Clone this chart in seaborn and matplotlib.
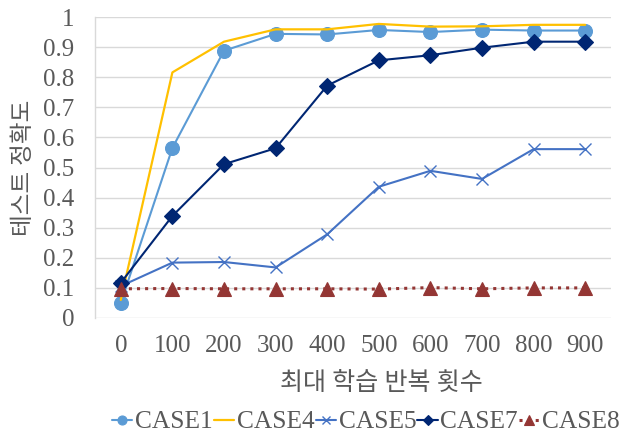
import matplotlib
matplotlib.use("Agg")
import matplotlib.pyplot as plt
from matplotlib.lines import Line2D
import seaborn as sns
import pandas as pd

iterations = ["0", "100", "200", "300", "400", "500", "600", "700", "800", "900"]
case1 = [0.050, 0.565, 0.888, 0.944, 0.942, 0.957, 0.950, 0.958, 0.955, 0.955]
case4 = [0.060, 0.816, 0.918, 0.959, 0.959, 0.977, 0.968, 0.969, 0.974, 0.974]
case5 = [0.106, 0.184, 0.186, 0.168, 0.278, 0.436, 0.489, 0.462, 0.561, 0.561]
case7 = [0.117, 0.339, 0.511, 0.564, 0.772, 0.856, 0.873, 0.898, 0.918, 0.918]
case8 = [0.097, 0.098, 0.097, 0.097, 0.097, 0.096, 0.101, 0.097, 0.100, 0.100]
series_names = ["CASE1", "CASE4", "CASE5", "CASE7", "CASE8"]
y_ticks = [0, 0.1, 0.2, 0.3, 0.4, 0.5, 0.6, 0.7, 0.8, 0.9, 1]
y_tick_labels = ["0", "0.1", "0.2", "0.3", "0.4", "0.5", "0.6", "0.7", "0.8", "0.9", "1"]
x_title = "최대 학습 반복 횟수"
y_title = "테스트 정확도"

sns.set_theme(style="white")
plt.rcParams["font.family"] = ["Liberation Serif", "Noto Sans CJK KR"]
text_color = "#595959"

styles = {
    "CASE1": dict(color="#5B9BD5", marker="o", markersize=10, linestyle="-", lw=1.5),
    "CASE4": dict(color="#FFC000", marker=None, markersize=0, linestyle="-", lw=1.6),
    "CASE5": dict(color="#4472C4", marker="x", markersize=8, linestyle="-", lw=1.5, mew=1.0),
    "CASE7": dict(color="#002673", marker="D", markersize=8, linestyle="-", lw=1.5),
    "CASE8": dict(color="#943634", marker="^", markersize=10, linestyle=":", lw=2.2),
}
values = dict(zip(series_names, [case1, case4, case5, case7, case8]))

fig = plt.figure(figsize=(6.3, 4.38), dpi=100)
ax = fig.add_axes([95 / 630, 1 - 318 / 438, (611 - 95) / 630, (318 - 17) / 438])

pos = list(range(len(iterations)))
legend_handles = []
for name in series_names:
    st = styles[name]
    df = pd.DataFrame({"x": pos, "y": values[name]})
    kw = dict(color=st["color"], linestyle=st["linestyle"], linewidth=st["lw"])
    if st["marker"]:
        kw.update(marker=st["marker"], markersize=st["markersize"],
                  markeredgecolor=st["color"], markerfacecolor=st["color"],
                  markeredgewidth=st.get("mew", 0.8))
    sns.lineplot(data=df, x="x", y="y", ax=ax, legend=False, **kw)
    # smaller marker for the legend key
    hk = dict(kw)
    if st["marker"]:
        hk["markersize"] = st["markersize"] * 0.65
    legend_handles.append(Line2D([], [], **hk))

ax.set_xlim(-0.5, len(iterations) - 0.5)
ax.set_ylim(0, 1)
ax.set_xticks(pos)
ax.set_xticklabels(iterations)
ax.set_yticks(y_ticks)
ax.set_yticklabels(y_tick_labels)
ax.yaxis.grid(True, color="#D9D9D9", linewidth=1.0)
ax.xaxis.grid(False)
for side in ["top", "right", "bottom"]:
    ax.spines[side].set_visible(False)
ax.spines["left"].set_color("#D9D9D9")
ax.spines["left"].set_linewidth(1.0)
ax.set_axisbelow(True)
ax.tick_params(axis="both", length=0, labelsize=18, colors=text_color)
ax.tick_params(axis="y", pad=15)
ax.tick_params(axis="x", pad=12)

ax.set_xlabel("")
ax.set_ylabel(y_title, fontsize=17, color=text_color, labelpad=6)
fig.text(381 / 630, 1 - 383 / 438, x_title, fontsize=18, color=text_color,
         ha="center", va="center")

leg = fig.legend(legend_handles, series_names, loc="center",
                 bbox_to_anchor=(366 / 630, 1 - 422 / 438),
                 ncol=5, frameon=False, fontsize=18.3, handlelength=0.8,
                 handletextpad=0.1, columnspacing=0.05, borderaxespad=0, borderpad=0)
for t in leg.get_texts():
    t.set_color(text_color)

fig.savefig("out.png", dpi=100)
